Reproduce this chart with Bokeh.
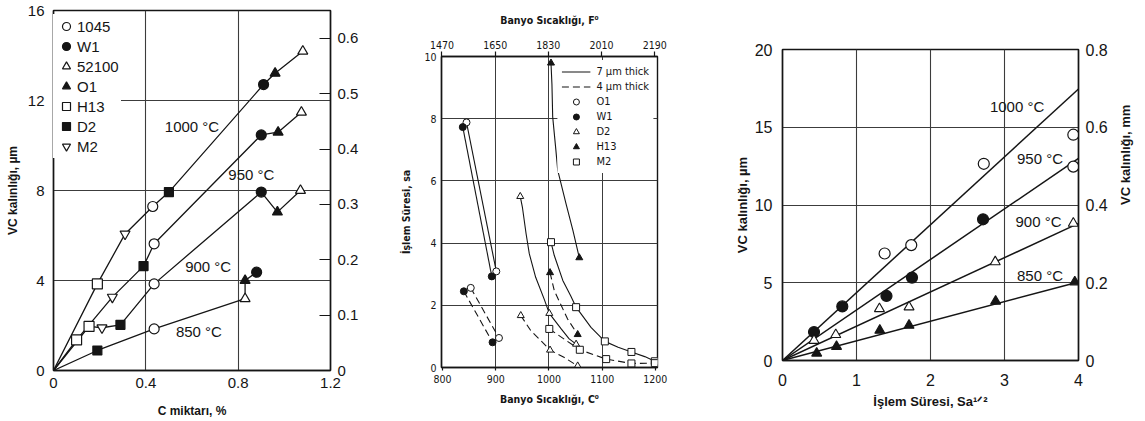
import math
from bokeh.plotting import figure
from bokeh.layouts import row
from bokeh.models import (Range1d, LinearAxis, FixedTicker, NumeralTickFormatter,
                          Label, Legend, LegendItem)
from bokeh.embed import file_html
from bokeh.resources import INLINE

# ------------------------------------------------------------------ data
# Panel 1: VC thickness (µm) vs carbon content (%), one line per bath temperature
c_ticks = [0, 0.4, 0.8, 1.2]
vc1_ticks = [0, 4, 8, 12, 16]
mil_ticks = [0, 0.1, 0.2, 0.3, 0.4, 0.5, 0.6]
steels1 = ["1045", "W1", "52100", "O1", "H13", "D2", "M2"]

c_1000 = [0, 0.19, 0.31, 0.43, 0.50, 0.91, 0.96, 1.08]
vc_1000 = [0, 3.85, 6.07, 7.29, 7.93, 12.71, 13.21, 14.19]
st_1000 = ["", "H13", "M2", "1045", "D2", "W1", "O1", "52100"]

c_950 = [0, 0.10, 0.255, 0.39, 0.436, 0.90, 0.973, 1.074]
vc_950 = [0, 1.36, 3.26, 4.64, 5.63, 10.47, 10.59, 11.48]
st_950 = ["", "H13", "M2", "D2", "1045", "W1", "O1", "52100"]

c_900 = [0, 0.154, 0.21, 0.29, 0.436, 0.90, 0.97, 1.07]
vc_900 = [0, 1.96, 1.90, 2.03, 3.85, 7.93, 7.04, 8.0]
st_900 = ["", "H13", "M2", "D2", "1045", "W1", "O1", "52100"]

c_850 = [0, 0.19, 0.436, 0.83, 0.83, 0.88]
vc_850 = [0, 0.89, 1.85, 3.19, 4.0, 4.37]
st_850 = ["", "D2", "1045", "52100", "O1", "W1"]

temp_labels1 = ["1000 °C", "950 °C", "900 °C", "850 °C"]
temp_label1_x = [0.60, 0.857, 0.67, 0.63]
temp_label1_y = [10.85, 8.7, 4.64, 1.75]

# Panel 2: treatment time (h) vs bath temperature (°C); solid = 7 µm, dashed = 4 µm
bath_c_ticks = [800, 900, 1000, 1100, 1200]
bath_f_ticks = [1470, 1650, 1830, 2010, 2190]
time_ticks = [0, 2, 4, 6, 8, 10]

o1_7_T, o1_7_t = [845, 901], [7.88, 3.09]
w1_7_T, w1_7_t = [838, 892.5], [7.73, 2.93]
d2_7_T = [946, 950, 957, 963, 975, 991, 1000.6, 1023, 1038, 1051]
d2_7_t = [5.5, 5.16, 4.3, 3.66, 2.9, 2.2, 1.74, 1.24, 0.92, 0.75]
h13_7_T = [1003.8, 1005.6, 1007, 1013, 1016.4, 1032, 1045, 1057]
h13_7_t = [9.79, 9.1, 8.06, 6.99, 6.35, 5.27, 4.41, 3.53]
m2_7_T = [1003.8, 1010, 1026, 1041, 1051, 1079, 1105, 1130, 1155, 1180, 1199]
m2_7_t = [4.03, 3.6, 2.8, 2.3, 1.94, 1.29, 0.84, 0.65, 0.50, 0.35, 0.2]

o1_4_T, o1_4_t = [853, 906], [2.56, 0.95]
w1_4_T, w1_4_t = [840, 894], [2.45, 0.81]
d2_4_T = [947, 966, 985, 1002, 1029, 1054]
d2_4_t = [1.67, 1.18, 0.86, 0.56, 0.32, 0.05]
h13_4_T = [1002, 1010, 1035, 1054]
h13_4_t = [3.05, 2.47, 1.56, 1.06]
m2_4_T = [1000.6, 1058, 1107.5, 1155, 1199]
m2_4_t = [1.24, 0.57, 0.27, 0.13, 0.14]

# measured points (markers)
o1_pt_T, o1_pt_t = [845, 901, 853, 906], [7.88, 3.09, 2.56, 0.95]
w1_pt_T, w1_pt_t = [838, 892.5, 840, 894], [7.73, 2.93, 2.45, 0.81]
d2_pt_T, d2_pt_t = [946, 1000.6, 1051, 947, 1002, 1054], [5.5, 1.74, 0.75, 1.67, 0.56, 0.05]
h13_pt_T, h13_pt_t = [1003.8, 1057, 1002, 1054], [9.79, 3.53, 3.05, 1.06]
m2_pt_T = [1003.8, 1051, 1105, 1155, 1199, 1000.6, 1058, 1107.5, 1155, 1199]
m2_pt_t = [4.03, 1.94, 0.84, 0.50, 0.2, 1.24, 0.57, 0.27, 0.13, 0.14]

# Panel 3: VC thickness vs sqrt(treatment time)
sqrt_ticks = [0, 1, 2, 3, 4]
vc3_ticks = [0, 5, 10, 15, 20]
mm_ticks = [0, 0.2, 0.4, 0.6, 0.8]
fit_x = [0, 4]
fit_1000 = [0, 17.46]
fit_950 = [0, 13.0]
fit_900 = [0, 8.82]
fit_850 = [0, 5.05]
pts_1000_x = [1.38, 1.74, 2.72, 3.93, 3.93]
pts_1000_y = [6.88, 7.42, 12.65, 14.52, 12.47]
pts_950_x = [0.426, 0.808, 1.405, 1.75, 2.71]
pts_950_y = [1.83, 3.48, 4.15, 5.33, 9.08]
pts_900_x = [0.426, 0.72, 1.31, 1.71, 2.875, 3.93]
pts_900_y = [1.29, 1.66, 3.33, 3.44, 6.34, 8.82]
pts_850_x = [0.462, 0.73, 1.315, 1.71, 2.88, 3.95]
pts_850_y = [0.47, 0.9, 1.94, 2.26, 3.81, 5.05]
temp_labels3 = ["1000 °C", "950 °C", "900 °C", "850 °C"]
temp_label3_x = [3.17, 3.48, 3.46, 3.48]
temp_label3_y = [16.34, 13.0, 8.92, 5.48]

# ------------------------------------------------------------------ style helpers
INK = "#151515"
GRID = "#3c3c3c"
SANS = "Liberation Sans"
NARROW = "DejaVu Sans Condensed, Liberation Sans, sans-serif"


def style_axis(ax, size, font=SANS, tick_in=0, tick_out=0, standoff=6,
               label_size="12px", label_standoff=5):
    ax.major_label_text_font = font
    ax.major_label_text_font_size = size
    ax.major_label_text_color = INK
    ax.major_tick_in = tick_in
    ax.major_tick_out = tick_out
    ax.minor_tick_in = 0
    ax.minor_tick_out = 0
    ax.major_tick_line_color = INK
    ax.major_tick_line_width = 1.2
    ax.axis_line_color = INK
    ax.axis_line_width = 1.4
    ax.major_label_standoff = standoff
    ax.axis_label_text_font = font
    ax.axis_label_text_font_style = "bold"
    ax.axis_label_text_font_size = label_size
    ax.axis_label_text_color = INK
    ax.axis_label_standoff = label_standoff


def base_style(p):
    p.outline_line_color = INK
    p.outline_line_width = 1.4
    p.background_fill_color = "white"
    p.border_fill_color = "white"
    p.xgrid.grid_line_color = GRID
    p.ygrid.grid_line_color = GRID
    p.xgrid.grid_line_width = 1.1
    p.ygrid.grid_line_width = 1.1


# ------------------------------------------------------------------ panel 1
p1 = figure(width=380, height=421, x_range=Range1d(0, 1.2), y_range=Range1d(0, 16),
            output_backend="svg", toolbar_location=None, frame_align=False,
            min_border_left=53, min_border_right=50, min_border_top=10, min_border_bottom=51)
base_style(p1)
p1.extra_y_ranges = {"mil": Range1d(0, 16 / 24.6)}
p1.xgrid.ticker = FixedTicker(ticks=c_ticks[1:-1])
p1.ygrid.ticker = FixedTicker(ticks=vc1_ticks[1:-1])
xa = p1.xaxis[0]
xa.ticker = FixedTicker(ticks=c_ticks)
xa.formatter = NumeralTickFormatter(format="0.[0]")
xa.axis_label = "C miktarı, %"
style_axis(xa, "15px", standoff=7, label_size="12px", label_standoff=13)
ya = p1.yaxis[0]
ya.ticker = FixedTicker(ticks=vc1_ticks)
ya.axis_label = "VC kalınlığı, µm"
style_axis(ya, "15px", standoff=9, label_size="12px", label_standoff=5)
ra = LinearAxis(y_range_name="mil", ticker=FixedTicker(ticks=mil_ticks),
                formatter=NumeralTickFormatter(format="0.[0]"))
style_axis(ra, "15px", tick_in=11, tick_out=0, standoff=7)
p1.add_layout(ra, "right")

marker_style1 = {
    "1045": ("circle", "white", 10),
    "W1": ("circle", INK, 10),
    "52100": ("triangle", "white", 10),
    "O1": ("triangle", INK, 10),
    "H13": ("square", "white", 10),
    "D2": ("square", INK, 9),
    "M2": ("inverted_triangle", "white", 10),
}
series1 = [(c_1000, vc_1000, st_1000), (c_950, vc_950, st_950),
           (c_900, vc_900, st_900), (c_850, vc_850, st_850)]
for cx, vy, st in series1:
    p1.line(cx, vy, line_color=INK, line_width=1.3)

renderers1 = {}
for s in steels1:
    xs, ys = [], []
    for cx, vy, st in series1:
        for a, b, name in zip(cx, vy, st):
            if name == s:
                xs.append(a)
                ys.append(b)
    mk, fill, size = marker_style1[s]
    renderers1[s] = p1.scatter(xs, ys, marker=mk, size=size, fill_color=fill,
                               line_color=INK, line_width=1.2)

for t, x, y in zip(temp_labels1, temp_label1_x, temp_label1_y):
    p1.add_layout(Label(x=x, y=y, text=t, text_align="center", text_baseline="middle",
                        text_font=SANS, text_font_size="15px", text_color=INK))

leg1 = Legend(items=[LegendItem(label=s, renderers=[renderers1[s]]) for s in steels1],
              location=(0, 212), margin=0, padding=2, spacing=0,
              glyph_width=22, glyph_height=20, label_height=20, label_standoff=0,
              label_text_font=SANS, label_text_font_size="15px", label_text_color=INK,
              border_line_alpha=0, background_fill_color="white", background_fill_alpha=1)
p1.add_layout(leg1)

# ------------------------------------------------------------------ panel 2
p2 = figure(width=320, height=421, x_range=Range1d(798, 1204), y_range=Range1d(0, 10),
            output_backend="svg", toolbar_location=None, frame_align=False,
            min_border_left=61, min_border_right=43, min_border_top=56, min_border_bottom=54)
base_style(p2)
p2.xgrid.grid_line_width = 1.0
p2.ygrid.grid_line_width = 1.0
p2.extra_x_ranges = {"F": Range1d(798 * 1.8 + 32, 1204 * 1.8 + 32)}
p2.xgrid.ticker = FixedTicker(ticks=bath_c_ticks[1:-1])
p2.ygrid.ticker = FixedTicker(ticks=time_ticks[1:-1])
bx = p2.xaxis[0]
bx.ticker = FixedTicker(ticks=bath_c_ticks)
bx.axis_label = "Banyo Sıcaklığı, C⁰"
style_axis(bx, "10.5px", font=NARROW, tick_out=3, standoff=4, label_size="10.5px",
           label_standoff=7)
ly = p2.yaxis[0]
ly.ticker = FixedTicker(ticks=time_ticks)
ly.axis_label = "İşlem Süresi, sa"
style_axis(ly, "10.5px", font=NARROW, tick_out=0, standoff=5, label_size="10.5px",
           label_standoff=9)
tx = LinearAxis(x_range_name="F", ticker=FixedTicker(ticks=bath_f_ticks),
                axis_label="Banyo Sıcaklığı, F⁰")
style_axis(tx, "10.5px", font=NARROW, tick_out=5, standoff=3, label_size="10.5px",
           label_standoff=12)
p2.add_layout(tx, "above")

solid_curves = [(o1_7_T, o1_7_t), (w1_7_T, w1_7_t), (d2_7_T, d2_7_t),
                (h13_7_T, h13_7_t), (m2_7_T, m2_7_t)]
dashed_curves = [(o1_4_T, o1_4_t), (w1_4_T, w1_4_t), (d2_4_T, d2_4_t),
                 (h13_4_T, h13_4_t), (m2_4_T, m2_4_t)]
solid_r = None
for T, t in solid_curves:
    r = p2.line(T, t, line_color=INK, line_width=1.1)
    solid_r = solid_r or r
dashed_r = None
for T, t in dashed_curves:
    r = p2.line(T, t, line_color=INK, line_width=1.1, line_dash="7 4")
    dashed_r = dashed_r or r

steels2 = ["O1", "W1", "D2", "H13", "M2"]
pts2 = {"O1": (o1_pt_T, o1_pt_t, "circle", "white"),
        "W1": (w1_pt_T, w1_pt_t, "circle", INK),
        "D2": (d2_pt_T, d2_pt_t, "triangle", "white"),
        "H13": (h13_pt_T, h13_pt_t, "triangle", INK),
        "M2": (m2_pt_T, m2_pt_t, "square", "white")}
renderers2 = {}
for s in steels2:
    T, t, mk, fill = pts2[s]
    renderers2[s] = p2.scatter(T, t, marker=mk, size=7, fill_color=fill,
                               line_color=INK, line_width=1.0)

leg2_items = [LegendItem(label="7 µm thick", renderers=[solid_r]),
              LegendItem(label="4 µm thick", renderers=[dashed_r])]
leg2_items += [LegendItem(label=s, renderers=[renderers2[s]]) for s in steels2]
leg2 = Legend(items=leg2_items, location="top_right", margin=4, padding=4, spacing=0,
              glyph_width=29, glyph_height=15, label_height=15, label_standoff=6,
              label_text_font=NARROW, label_text_font_size="11px", label_text_color=INK,
              border_line_alpha=0, background_fill_color="white", background_fill_alpha=1)
p2.add_layout(leg2)

# ------------------------------------------------------------------ panel 3
p3 = figure(width=445, height=421, x_range=Range1d(0, 4), y_range=Range1d(0, 20),
            output_backend="svg", toolbar_location=None, frame_align=False,
            min_border_left=82, min_border_right=67, min_border_top=49, min_border_bottom=61)
base_style(p3)
p3.extra_y_ranges = {"mm": Range1d(0, 0.8)}
p3.xgrid.ticker = FixedTicker(ticks=sqrt_ticks[1:-1])
p3.ygrid.ticker = FixedTicker(ticks=vc3_ticks[1:-1])
x3 = p3.xaxis[0]
x3.ticker = FixedTicker(ticks=sqrt_ticks)
x3.axis_label = "İşlem Süresi, Sa¹ᐟ²"
style_axis(x3, "16px", standoff=13, label_size="13px", label_standoff=5)
y3 = p3.yaxis[0]
y3.ticker = FixedTicker(ticks=vc3_ticks)
y3.axis_label = "VC kalınlığı, µm"
style_axis(y3, "16px", standoff=10, label_size="13px", label_standoff=2)
r3 = LinearAxis(y_range_name="mm", ticker=FixedTicker(ticks=mm_ticks),
                formatter=NumeralTickFormatter(format="0.[0]"),
                axis_label="VC kalınlığı, mm")
style_axis(r3, "16px", standoff=7, label_size="13px", label_standoff=15)
r3.axis_label_orientation = math.pi / 2
p3.add_layout(r3, "right")

for fy in [fit_1000, fit_950, fit_900, fit_850]:
    p3.line(fit_x, fy, line_color=INK, line_width=1.5)

p3.scatter(pts_1000_x, pts_1000_y, marker="circle", size=11, fill_color="white",
           line_color=INK, line_width=1.2)
p3.scatter(pts_950_x, pts_950_y, marker="circle", size=11, fill_color=INK,
           line_color=INK, line_width=1.2)
p3.scatter(pts_900_x, pts_900_y, marker="triangle", size=10, fill_color="white",
           line_color=INK, line_width=1.1)
p3.scatter(pts_850_x, pts_850_y, marker="triangle", size=10, fill_color=INK,
           line_color=INK, line_width=1.1)

for t, x, y in zip(temp_labels3, temp_label3_x, temp_label3_y):
    p3.add_layout(Label(x=x, y=y, text=t, text_align="center", text_baseline="middle",
                        text_font=SANS, text_font_size="15px", text_color=INK))

layout = row(p1, p2, p3)
open("out.html", "w").write(file_html(layout, INLINE))
